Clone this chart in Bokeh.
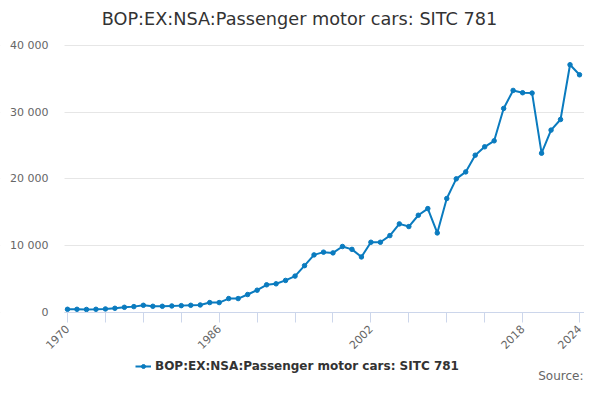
from bokeh.plotting import figure
from bokeh.models import (Range1d, FixedTicker, CustomJSTickFormatter, Legend,
                          LegendItem, Label, BoxAnnotation)
from bokeh.embed import file_html
from bokeh.resources import INLINE
import math

# data
years = list(range(1970, 2025))
values = [
    410, 410, 380, 410, 460, 560, 710, 810, 1010, 860,
    860, 910, 960, 1010, 1060, 1420, 1420, 2020, 2020, 2630,
    3280, 4090, 4240, 4750, 5400, 6970, 8590, 9000, 8890, 9850,
    9420, 8280, 10490, 10490, 11490, 13250, 12850, 14550, 15550, 11890,
    17060, 20020, 21070, 23580, 24840, 25740, 30610, 33320, 32970, 32920,
    23880, 27350, 28950, 37180, 35670,
]
x_ticks = list(range(1970, 2019, 4)) + [2024]
x_labelled = [1970, 1986, 2002, 2018, 2024]
y_ticks = [0, 10000, 20000, 30000, 40000]

series_name = "BOP:EX:NSA:Passenger motor cars: SITC 781"
line_color = "#0a7bbf"
font = "DejaVu Sans"

# visible plot area spans these x values; the frame itself covers the whole
# canvas so that title, axis labels, legend and source are never clipped
x_left, x_right = 1969.684, 2024.527

p = figure(width=584, height=384, output_backend="svg", toolbar_location=None,
           x_range=Range1d(1962.934, x_right), y_range=Range1d(-10900, 46840),
           min_border=0)
p.outline_line_color = None
p.background_fill_color = "white"
p.border_fill_color = "white"

ln = p.line(years, values, line_color=line_color, line_width=2)
pts = p.scatter(years, values, marker="circle", size=4.5,
                fill_color=line_color, line_color=line_color)

# x axis pinned at y=0
p.xgrid.grid_line_color = None
p.xaxis.fixed_location = 0
p.xaxis.bounds = (x_left, x_right)
p.xaxis.ticker = FixedTicker(ticks=x_ticks)
p.xaxis.major_label_overrides = {t: (str(t) if t in x_labelled else "") for t in x_ticks}
p.xaxis.major_label_orientation = math.pi / 4
p.xaxis.axis_line_color = "#ccd6eb"
p.xaxis.major_tick_line_color = "#ccd6eb"
p.xaxis.major_tick_out = 10
p.xaxis.major_tick_in = 0
p.xaxis.minor_tick_line_color = None
p.xaxis.major_label_text_font = font
p.xaxis.major_label_text_font_size = "11px"
p.xaxis.major_label_text_color = "#666666"

# y axis pinned at the left edge of the plot area
p.yaxis.fixed_location = x_left
p.yaxis.ticker = FixedTicker(ticks=y_ticks)
p.yaxis.formatter = CustomJSTickFormatter(
    code="return tick.toFixed(0).replace(/\\B(?=(\\d{3})+(?!\\d))/g, ' ');")
p.yaxis.axis_line_color = None
p.yaxis.major_tick_line_color = None
p.yaxis.major_tick_out = 0
p.yaxis.major_tick_in = 0
p.yaxis.minor_tick_line_color = None
p.yaxis.major_label_standoff = 16
p.yaxis.major_label_text_font = font
p.yaxis.major_label_text_font_size = "11px"
p.yaxis.major_label_text_color = "#666666"
p.ygrid.grid_line_color = "#e6e6e6"

# hide the grid lines left of the plot area
p.add_layout(BoxAnnotation(right=x_left, fill_color="white", fill_alpha=1,
                           line_color=None, level="underlay"))

# title
title = Label(x=299, y=366, x_units="screen", y_units="screen",
              text=series_name, text_align="center", text_baseline="middle",
              text_font=font, text_font_size="17.7px", text_color="#333333")
p.add_layout(title)

# legend under the axis
legend = Legend(items=[LegendItem(label=series_name, renderers=[ln, pts])],
                location=(135, 11), orientation="horizontal",
                label_text_font=font, label_text_font_size="12px",
                label_text_font_style="bold", label_text_color="#333333",
                glyph_width=16, glyph_height=10, label_standoff=4,
                border_line_color=None, background_fill_alpha=0,
                padding=0, margin=0)
p.add_layout(legend)

source = Label(x=583, y=9, x_units="screen", y_units="screen",
               text="Source:", text_align="right", text_baseline="middle",
               text_font=font, text_font_size="12px", text_color="#666666")
p.add_layout(source)

open("out.html", "w").write(file_html(p, INLINE))
